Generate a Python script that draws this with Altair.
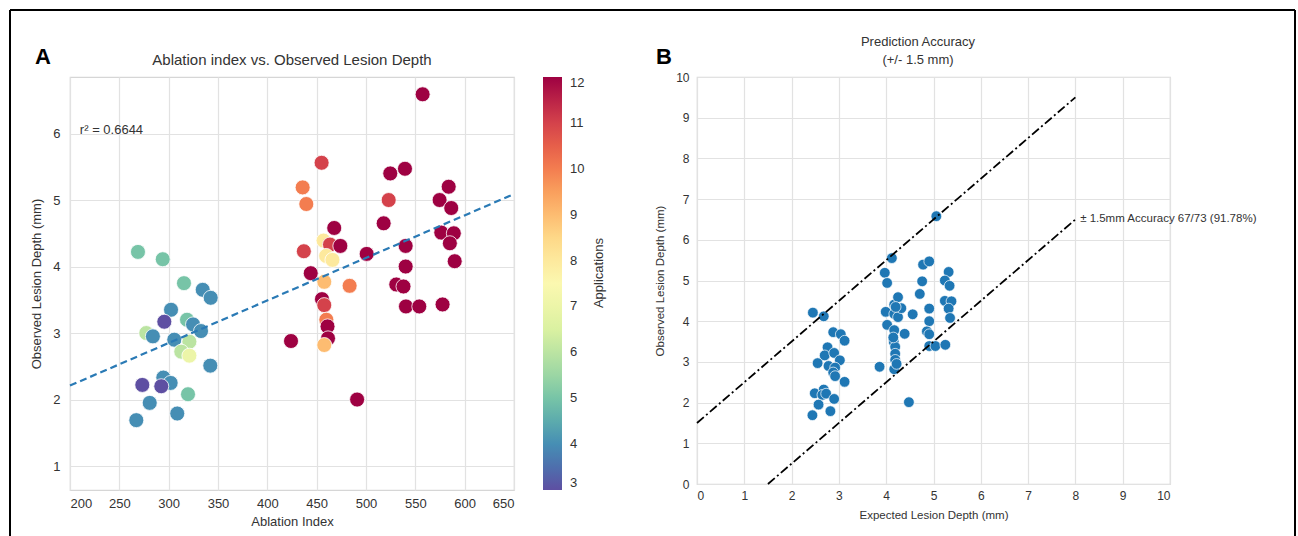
import altair as alt
import pandas as pd

# ---------------- Panel A data ----------------
ai_index = [268.9, 294, 315.5, 334.5, 342.6, 302.4, 295.6, 318.6, 324.7, 332.8,
            277.3, 284, 305.7, 321, 312.8, 321, 342.2, 294.6, 302, 273.3,
            292.5, 319.6, 280.8, 308.7, 267.2,
            424, 437, 444, 457, 463.5, 474, 459.6, 466, 457.7, 483.4,
            455.4, 457.7, 459.8, 461, 461.5, 457.7, 491, 557.4, 455, 435.8,
            439.5, 524.6, 539.5, 583.8, 574.6, 523, 586.4, 517.9, 467.8, 500.7,
            540.2, 576.3, 589, 585, 589.9, 540.2, 530.7, 538, 540.5, 554, 577.6]
ai_depth = [4.22, 4.11, 3.75, 3.65, 3.53, 3.35, 3.17, 3.2, 3.13, 3.03,
            3.0, 2.95, 2.9, 2.87, 2.72, 2.66, 2.51, 2.33, 2.25, 2.22,
            2.2, 2.08, 1.95, 1.79, 1.69,
            2.88, 4.23, 3.9, 4.39, 4.33, 4.31, 4.16, 4.1, 3.77, 3.71,
            3.51, 3.42, 3.2, 3.1, 2.92, 2.82, 2.0, 6.59, 5.56, 5.19,
            4.94, 5.4, 5.47, 5.2, 5.0, 5.0, 4.88, 4.65, 4.58, 4.19,
            4.31, 4.51, 4.5, 4.35, 4.08, 4.0, 3.73, 3.7, 3.4, 3.4, 3.43]
ai_apps = [5, 5, 5, 4, 4, 4, 3, 5, 4, 4,
           6, 4, 4, 6, 6, 7, 4, 4, 4, 3,
           3, 5, 4, 4, 4,
           12, 11, 12, 8, 11, 12, 8, 8, 9, 10,
           12, 11, 10, 12, 12, 9, 12, 12, 11, 10,
           10, 12, 12, 12, 12, 11, 12, 12, 12, 12,
           12, 12, 12, 12, 12, 12, 12, 12, 12, 12, 12]
fit_x = [200, 650]
fit_y = [2.21, 5.09]
r2_text = ["r\u00b2 = 0.6644"]
r2_x = [210]
r2_y = [6.06]
cbar_title = ["Applications"]
titleA = ["Ablation index vs. Observed Lesion Depth"]

# ---------------- Panel B data ----------------
exp_depth = [2.45, 2.68, 2.88, 3.04, 3.12, 2.76, 2.70, 2.90, 2.55, 3.02,
             2.78, 2.92, 2.88, 2.92, 3.12, 2.49, 2.68, 2.65, 2.73, 2.90,
             2.57, 2.82, 2.44, 3.86, 4.48, 4.12, 3.97, 4.02, 3.99, 4.02,
             4.17, 4.25, 4.17, 4.25, 4.32, 4.17, 4.39, 4.16, 4.19, 4.19,
             4.19, 4.17, 4.56, 4.78, 4.91, 4.76, 4.71, 4.91, 4.91, 4.86,
             4.91, 4.91, 5.04, 5.32, 5.24, 5.34, 5.24, 5.38, 5.32, 5.35,
             5.25, 5.06, 4.20, 4.15, 4.22]
obs_depth = [4.21, 4.12, 3.73, 3.68, 3.52, 3.36, 3.16, 3.22, 2.97, 3.04,
             2.90, 2.86, 2.74, 2.65, 2.51, 2.23, 2.32, 2.19, 2.22, 2.09,
             1.95, 1.79, 1.69, 2.88, 2.01, 5.55, 5.19, 4.94, 4.23, 3.91,
             4.41, 4.59, 4.18, 4.10, 4.32, 3.78, 3.69, 3.49, 3.37, 3.20,
             3.05, 2.82, 4.17, 5.39, 5.47, 4.98, 4.67, 4.31, 4.00, 3.75,
             3.68, 3.39, 3.39, 5.21, 5.00, 4.87, 4.50, 4.49, 4.31, 4.08,
             3.42, 6.58, 4.35, 3.60, 2.95]
upper_x = [0, 8]
upper_y = [1.5, 9.5]
lower_x = [1.5, 8]
lower_y = [0, 6.5]
acc_text = ["\u00b1 1.5mm Accuracy 67/73 (91.78%)"]
acc_x = [8.1]
acc_y = [6.51]
titleB1 = ["Prediction Accuracy"]
titleB2 = ["(+/- 1.5 mm)"]

FONT = "Liberation Sans"
TXT = "#333333"

one = pd.DataFrame({"k": [0]})

# ---------------- Panel A ----------------
dfA = pd.DataFrame({"ai": ai_index, "depth": ai_depth, "apps": ai_apps})
xA = alt.X("ai:Q", scale=alt.Scale(domain=[200, 650], nice=False, zero=False),
           axis=alt.Axis(values=list(range(200, 651, 50)), title="Ablation Index",
                         labelFontSize=13, titleFontSize=13, labelPadding=7,
                         titlePadding=5))
yA = alt.Y("depth:Q", scale=alt.Scale(domain=[0.64, 6.85], nice=False, zero=False),
           axis=alt.Axis(values=[1, 2, 3, 4, 5, 6], format="d",
                         title="Observed Lesion Depth (mm)",
                         labelFontSize=13, titleFontSize=13, labelPadding=10,
                         titlePadding=9))

ptsA = alt.Chart(dfA).mark_circle(size=225, opacity=1, stroke="white",
                                  strokeWidth=0.8).encode(
    x=xA, y=yA,
    color=alt.Color("apps:Q",
                    scale=alt.Scale(scheme="spectral", reverse=True, domain=[3, 12]),
                    legend=alt.Legend(title=None, orient="right", offset=29,
                                      padding=0, gradientLength=413,
                                      gradientThickness=19, gradientStrokeWidth=0,
                                      values=list(range(3, 13)), labelOverlap=False,
                                      labelFontSize=13, labelColor=TXT, labelOffset=8,
                                      labelBaseline="middle", labelFont=FONT))
)
fitA = alt.Chart(pd.DataFrame({"ai": fit_x, "depth": fit_y})).mark_line(
    color="#2a7ab5", strokeWidth=2.2, strokeDash=[7, 4]).encode(x="ai:Q", y="depth:Q")
r2A = alt.Chart(pd.DataFrame({"ai": r2_x, "depth": r2_y, "t": r2_text})).mark_text(
    align="left", baseline="middle", fontSize=13, color=TXT, font=FONT).encode(
    x="ai:Q", y="depth:Q", text="t:N")
cbT = alt.Chart(pd.DataFrame({"t": cbar_title})).mark_text(
    angle=270, fontSize=13, color=TXT, font=FONT, baseline="middle").encode(
    x=alt.value(529), y=alt.value(196), text="t:N")
ttlA = alt.Chart(pd.DataFrame({"t": titleA})).mark_text(
    fontSize=15, color=TXT, font=FONT, baseline="middle").encode(
    x=alt.value(222), y=alt.value(-17), text="t:N")
labA = alt.Chart(one).mark_text(text="A", fontSize=22, fontWeight="bold",
                                color="black", font=FONT).encode(
    x=alt.value(-27), y=alt.value(-20))
bL = alt.Chart(one).mark_rule(color="black", strokeWidth=2).encode(
    x=alt.value(-60), y=alt.value(-67), y2=alt.value(459))
bT = alt.Chart(one).mark_rule(color="black", strokeWidth=2).encode(
    x=alt.value(-60), x2=alt.value(1225), y=alt.value(-67))
bR = alt.Chart(one).mark_rule(color="black", strokeWidth=2).encode(
    x=alt.value(1225), y=alt.value(-67), y2=alt.value(459))

panelA = alt.layer(ptsA, fitA, r2A, cbT, ttlA, labA, bL, bT, bR).properties(
    width=444, height=413)

# ---------------- Panel B ----------------
dfB = pd.DataFrame({"e": exp_depth, "o": obs_depth})
xB = alt.X("e:Q", scale=alt.Scale(domain=[0, 10], nice=False),
           axis=alt.Axis(values=list(range(0, 11)), title="Expected Lesion Depth (mm)",
                         labelFontSize=12, titleFontSize=11.5, labelPadding=6,
                         titlePadding=8))
yB = alt.Y("o:Q", scale=alt.Scale(domain=[0, 10], nice=False),
           axis=alt.Axis(values=list(range(0, 11)), title="Observed Lesion Depth (mm)",
                         labelFontSize=12, titleFontSize=11.5, labelPadding=8,
                         titlePadding=10))
ptsB = alt.Chart(dfB).mark_circle(size=115, opacity=1, color="#1f77b4",
                                  stroke="white", strokeWidth=0.7).encode(x=xB, y=yB)
upB = alt.Chart(pd.DataFrame({"e": upper_x, "o": upper_y})).mark_line(
    color="black", strokeWidth=1.8, strokeDash=[9, 3, 2, 3]).encode(x="e:Q", y="o:Q")
loB = alt.Chart(pd.DataFrame({"e": lower_x, "o": lower_y})).mark_line(
    color="black", strokeWidth=1.8, strokeDash=[9, 3, 2, 3]).encode(x="e:Q", y="o:Q")
accB = alt.Chart(pd.DataFrame({"e": acc_x, "o": acc_y, "t": acc_text})).mark_text(
    align="left", baseline="middle", fontSize=11.5, color=TXT, font=FONT).encode(
    x="e:Q", y="o:Q", text="t:N")
ttlB1 = alt.Chart(pd.DataFrame({"t": titleB1})).mark_text(
    fontSize=13, color=TXT, font=FONT, baseline="middle").encode(
    x=alt.value(221), y=alt.value(-35), text="t:N")
ttlB2 = alt.Chart(pd.DataFrame({"t": titleB2})).mark_text(
    fontSize=13, color=TXT, font=FONT, baseline="middle").encode(
    x=alt.value(221), y=alt.value(-17), text="t:N")
labB = alt.Chart(one).mark_text(text="B", fontSize=22, fontWeight="bold",
                                color="black", font=FONT).encode(
    x=alt.value(-33), y=alt.value(-20))

panelB = alt.layer(ptsB, upB, loB, accB, ttlB1, ttlB2, labB).properties(
    width=473, height=407)

chart = alt.hconcat(panelA, panelB, spacing=183, bounds="flush").resolve_scale(
    color="independent").resolve_legend(color="independent").properties(
    padding={"left": 8, "top": 8, "right": 0, "bottom": 0},
    background="white"
).configure_view(stroke="#d6d6d6", strokeWidth=1.2).configure_axis(
    grid=True, gridColor="#e2e2e2", gridWidth=1.2, domain=False, ticks=False,
    labelColor=TXT, titleColor=TXT, labelFont=FONT, titleFont=FONT,
    titleFontWeight="normal")

chart.save("out.html", embed_options={"renderer": "svg", "actions": False})
